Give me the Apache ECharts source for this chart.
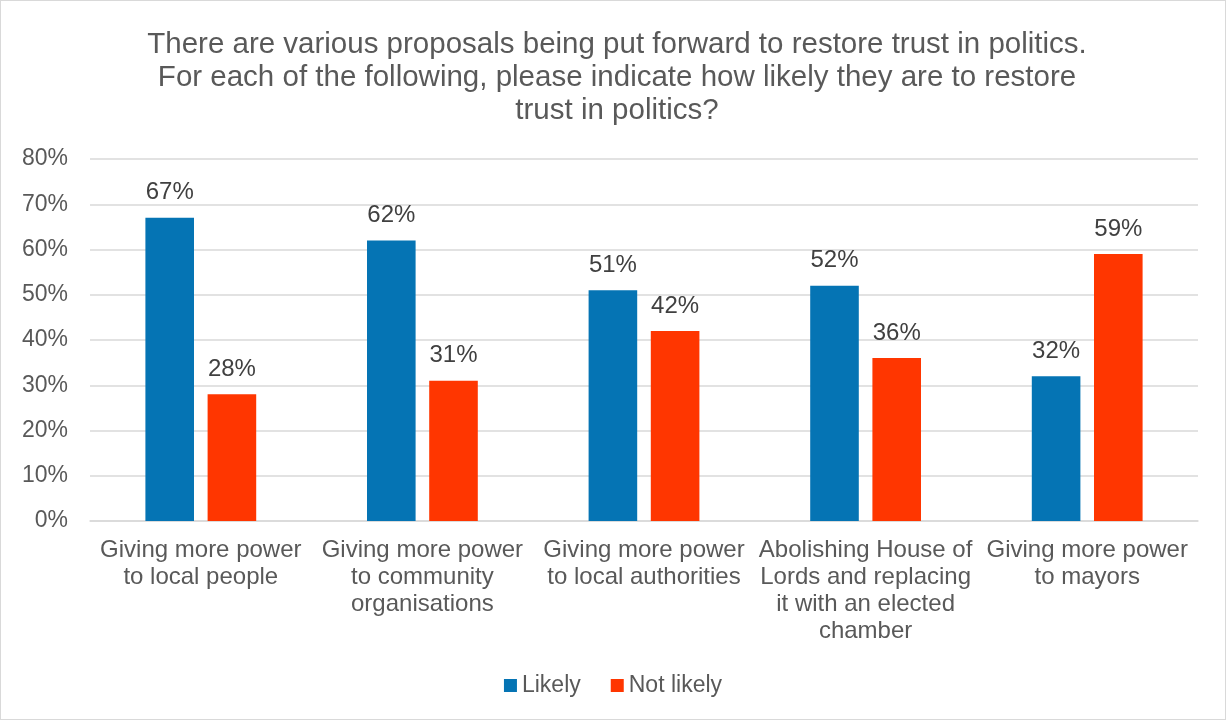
<!DOCTYPE html>
<html>
<head>
<meta charset="utf-8">
<script src="https://cdn.jsdelivr.net/npm/echarts@6/dist/echarts.min.js"></script>
<style>
html, body { margin: 0; padding: 0; background: #fff; }
#chart { width: 1226px; height: 720px; box-sizing: border-box; border: 1px solid #d9d9d9; }
</style>
</head>
<body>
<div id="chart"></div>
<script>
var categories = [
    'Giving more power\nto local people',
    'Giving more power\nto community\norganisations',
    'Giving more power\nto local authorities',
    'Abolishing House of\nLords and replacing\nit with an elected\nchamber',
    'Giving more power\nto mayors'
];
var likely = [67, 62, 51, 52, 32];
var notLikely = [28, 31, 42, 36, 59];

var font = 'Liberation Sans, Arial, sans-serif';
var chart = echarts.init(document.getElementById('chart'));
var option = {
    textStyle: { fontFamily: font },
    title: {
        text: 'There are various proposals being put forward to restore trust in politics.\nFor each of the following, please indicate how likely they are to restore\ntrust in politics?',
        left: 611,
        top: 22,
        textAlign: 'center',
        textStyle: { fontFamily: font, fontSize: 29.5, fontWeight: 'normal', color: '#595959', lineHeight: 33 }
    },
    legend: {
        data: ['Likely', 'Not likely'],
        top: 668,
        left: 'center',
        icon: 'rect',
        itemWidth: 13,
        itemHeight: 13,
        itemGap: 30,
        textStyle: { fontFamily: font, fontSize: 23, color: '#595959' }
    },
    grid: { left: 89, right: 27, top: 158, bottom: 198 },
    xAxis: {
        type: 'category',
        data: categories,
        axisTick: { show: false },
        axisLine: { lineStyle: { color: '#d9d9d9', width: 1.5 } },
        axisLabel: { fontFamily: font, fontSize: 24, color: '#595959', lineHeight: 27, margin: 16, interval: 0 }
    },
    yAxis: {
        type: 'value',
        min: 0,
        max: 80,
        interval: 10,
        axisLabel: { formatter: '{value}%', fontFamily: font, fontSize: 23, color: '#595959', margin: 22 },
        splitLine: { lineStyle: { color: '#d9d9d9', width: 1.5 } },
        axisLine: { show: false },
        axisTick: { show: false }
    },
    series: [{
        name: 'Likely',
        type: 'bar',
        data: likely,
        barGap: '28%',
        barCategoryGap: '50%',
        itemStyle: { color: '#0574b4' },
        label: { show: true, position: 'top', formatter: '{c}%', fontFamily: font, fontSize: 24, color: '#404040', distance: 13 }
    }, {
        name: 'Not likely',
        type: 'bar',
        data: notLikely,
        itemStyle: { color: '#ff3600' },
        label: { show: true, position: 'top', formatter: '{c}%', fontFamily: font, fontSize: 24, color: '#404040', distance: 13 }
    }]
};
chart.setOption(option);
</script>
</body>
</html>
